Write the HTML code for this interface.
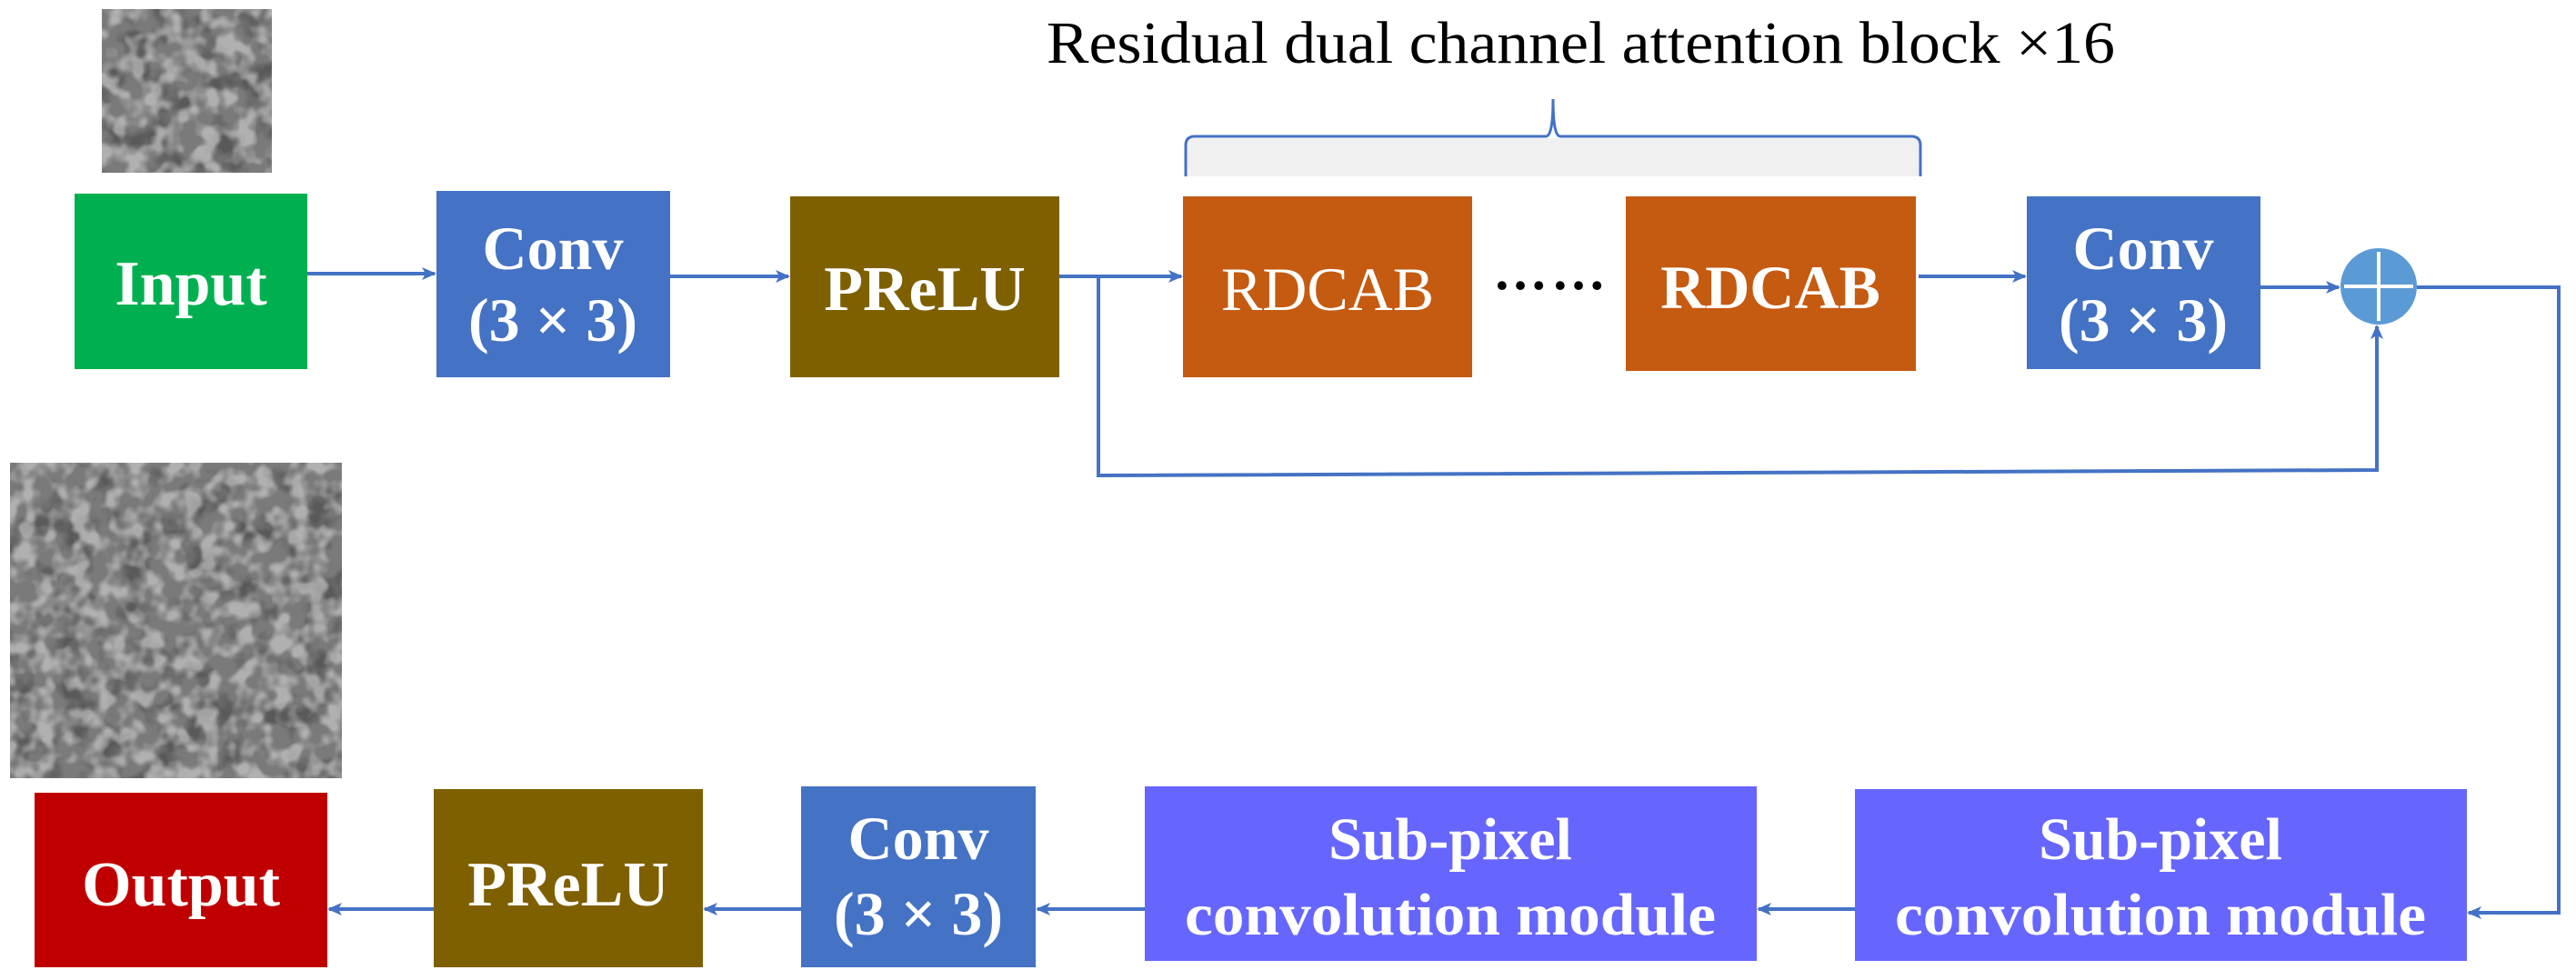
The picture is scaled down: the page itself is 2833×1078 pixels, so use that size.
<!DOCTYPE html>
<html><head><meta charset="utf-8"><style>
html,body{margin:0;padding:0;background:#fff;}
svg{display:block;}
.b{font-family:"Liberation Serif",serif;font-weight:bold;fill:#fff;text-anchor:middle;}
</style></head><body>
<svg width="2833" height="1078" viewBox="0 0 2833 1078" xmlns="http://www.w3.org/2000/svg">
<defs>
<marker id="a" markerWidth="16" markerHeight="16" refX="14" refY="8" orient="auto" markerUnits="userSpaceOnUse" viewBox="0 0 16 16">
<path d="M0,1 L16,8 L0,15 L4,8 Z" fill="#4472c4"/></marker>
<filter id="n" x="0" y="0" width="100%" height="100%" filterUnits="objectBoundingBox"><feTurbulence type="fractalNoise" baseFrequency="0.03" numOctaves="3" seed="4"/><feColorMatrix type="matrix" values="0 0 0 0 0.1  0 0 0 0 0.1  0 0 0 0 0.1  -4 0 0 0 2.1"/></filter>
<filter id="m" x="0" y="0" width="100%" height="100%" filterUnits="objectBoundingBox"><feTurbulence type="fractalNoise" baseFrequency="0.05" numOctaves="2" seed="9"/><feColorMatrix type="matrix" values="0 0 0 0 0.8  0 0 0 0 0.8  0 0 0 0 0.8  -4 0 0 0 2.3"/></filter>
</defs>
<!-- images -->
<rect x="112" y="10" width="187" height="180" fill="#7a7a7a"/>
<rect x="112" y="10" width="187" height="180" filter="url(#n)"/>
<rect x="112" y="10" width="187" height="180" filter="url(#m)" opacity="0.5"/>
<rect x="11" y="509" width="365" height="347" fill="#7a7a7a"/>
<rect x="11" y="509" width="365" height="347" filter="url(#n)"/>
<rect x="11" y="509" width="365" height="347" filter="url(#m)" opacity="0.5"/>
<!-- title + bracket -->
<text x="1151" y="69" font-family="Liberation Serif,serif" font-size="66" textLength="1175" lengthAdjust="spacingAndGlyphs" fill="#000">Residual dual channel attention block ×16</text>
<rect x="1304" y="152" width="808" height="42" fill="#f0f0f0"/>
<path d="M1304,194 L1304,160 Q1304,150 1314,150 L1700,150 Q1708,150 1708,109 Q1708,150 1716,150 L2102,150 Q2112,150 2112,160 L2112,194" fill="none" stroke="#4472c4" stroke-width="3"/>
<!-- top row -->
<rect x="82" y="213" width="256" height="193" fill="#00b050"/>
<text class="b" x="210" y="335" font-size="70">Input</text>
<rect x="480" y="210" width="257" height="205" fill="#4472c4"/>
<text class="b" x="608" y="296" font-size="68">Conv</text>
<text class="b" x="608" y="375" font-size="68">(3 × 3)</text>
<rect x="869" y="216" width="296" height="199" fill="#7f6000"/>
<text class="b" x="1017" y="341" font-size="70">PReLU</text>
<rect x="1301" y="216" width="318" height="199" fill="#c55a11"/>
<text x="1460" y="341" font-family="Liberation Serif,serif" font-size="68" fill="#fff" text-anchor="middle">RDCAB</text>
<text x="1706" y="318" font-family="Liberation Serif,serif" font-weight="bold" font-size="60" fill="#000" text-anchor="middle" letter-spacing="4">……</text>
<rect x="1788" y="216" width="319" height="192" fill="#c55a11"/>
<text class="b" x="1947" y="339" font-size="68">RDCAB</text>
<rect x="2229" y="216" width="257" height="190" fill="#4472c4"/>
<text class="b" x="2357" y="296" font-size="68">Conv</text>
<text class="b" x="2357" y="375" font-size="68">(3 × 3)</text>
<circle cx="2616" cy="315" r="42" fill="#5b9bd5"/>
<path d="M2578,315 H2654 M2616,277 V353" stroke="#fff" stroke-width="4"/>
<!-- connectors -->
<g stroke="#4472c4" stroke-width="4" fill="none">
<line x1="338" y1="301" x2="478" y2="301" marker-end="url(#a)"/>
<line x1="737" y1="304" x2="867" y2="304" marker-end="url(#a)"/>
<line x1="1165" y1="304" x2="1299" y2="304" marker-end="url(#a)"/>
<line x1="2110" y1="304" x2="2227" y2="304" marker-end="url(#a)"/>
<line x1="2486" y1="316" x2="2572" y2="316" marker-end="url(#a)"/>
<polyline points="1208,304 1208,523 2614,517 2614,359" marker-end="url(#a)"/>
<polyline points="2658,316 2814,316 2814,1004 2715,1004" marker-end="url(#a)"/>
<line x1="2040" y1="1000" x2="1934" y2="1000" marker-end="url(#a)"/>
<line x1="1259" y1="1000" x2="1141" y2="1000" marker-end="url(#a)"/>
<line x1="881" y1="1000" x2="775" y2="1000" marker-end="url(#a)"/>
<line x1="477" y1="1000" x2="362" y2="1000" marker-end="url(#a)"/>
</g>
<!-- bottom row -->
<rect x="38" y="872" width="322" height="192" fill="#c00000"/>
<text class="b" x="199" y="996" font-size="70">Output</text>
<rect x="477" y="868" width="296" height="196" fill="#7f6000"/>
<text class="b" x="625" y="996" font-size="70">PReLU</text>
<rect x="881" y="865" width="258" height="199" fill="#4472c4"/>
<text class="b" x="1010" y="945" font-size="68">Conv</text>
<text class="b" x="1010" y="1028" font-size="68">(3 × 3)</text>
<rect x="1259" y="865" width="673" height="192" fill="#6666ff"/>
<text class="b" x="1595" y="945" font-size="66">Sub-pixel</text>
<text class="b" x="1595" y="1028" font-size="66" textLength="584" lengthAdjust="spacingAndGlyphs">convolution module</text>
<rect x="2040" y="868" width="673" height="189" fill="#6666ff"/>
<text class="b" x="2376" y="945" font-size="66">Sub-pixel</text>
<text class="b" x="2376" y="1028" font-size="66" textLength="584" lengthAdjust="spacingAndGlyphs">convolution module</text>
</svg>
</body></html>
